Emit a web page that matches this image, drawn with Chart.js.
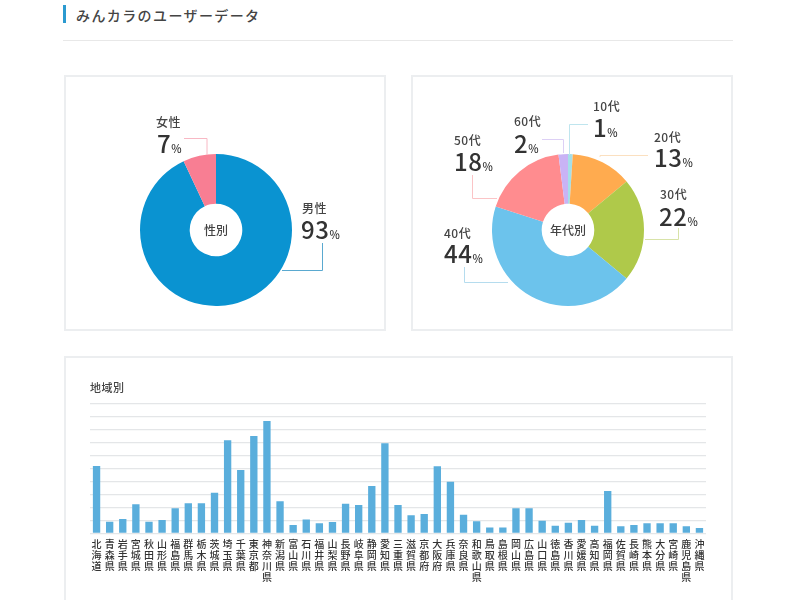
<!DOCTYPE html>
<html lang="ja">
<head>
<meta charset="utf-8">
<title>みんカラのユーザーデータ</title>
<script src="https://cdn.jsdelivr.net/npm/chart.js@4"></script>
<style>
  html, body { margin: 0; padding: 0; background: #fff; }
  body { position: relative; width: 800px; height: 600px; overflow: hidden; font-family: "Noto Sans CJK JP", "Noto Sans", sans-serif; color: #333; }
  .abs { position: absolute; }
  .card { position: absolute; box-sizing: border-box; border: 2px solid #eceef0; background: #fff; }
  .txt { position: absolute; line-height: 1; white-space: nowrap; transform: translateY(-50%); }
  .name { font-size: 12px; font-weight: 500; letter-spacing: 0.5px; color: #444; }
  .num { font-size: 24px; font-weight: 500; color: #333; letter-spacing: 0.5px; }
  .num small { font-size: 11px; font-weight: 500; margin-left: 0; }
  .center { font-size: 12px; font-weight: 500; color: #444; transform: translate(-50%, -50%); }
  svg { position: absolute; left: 0; top: 0; }
</style>
</head>
<body>
<div class="abs" style="left:63px;top:5px;width:3px;height:18px;background:#2b9ad0"></div>
<div class="txt" style="left:76px;top:15px;font-size:14px;font-weight:500;letter-spacing:1.4px;color:#444">みんカラのユーザーデータ</div>
<div class="abs" style="left:63px;top:40px;width:670px;height:1px;background:#e8e8e8"></div>

<div class="card" style="left:64px;top:75px;width:322px;height:256px"></div>
<div class="card" style="left:411px;top:75px;width:322px;height:256px"></div>
<div class="card" style="left:64px;top:356px;width:669px;height:260px"></div>

<canvas id="genderChart" class="abs" style="left:131px;top:145px"></canvas>
<canvas id="ageChart" class="abs" style="left:483px;top:145px"></canvas>
<canvas id="regionChart" class="abs" style="left:90px;top:400px"></canvas>

<svg width="800" height="600" fill="none" stroke-width="1">
  <polyline points="184,138.5 207,138.5 207,155" stroke="#f8b8c4"/>
  <polyline points="322.5,243 322.5,270.5 282,270.5" stroke="#5aa9d0"/>
  <polyline points="588,124.5 569.5,124.5 569.5,155" stroke="#bfe5ee"/>
  <polyline points="648,155.5 600,155.5 600,157" stroke="#fbe0c0"/>
  <polyline points="678.5,228 678.5,239.5 645,239.5" stroke="#d8e3a8"/>
  <polyline points="464.5,267 464.5,282.5 508,282.5" stroke="#b5dcee"/>
  <polyline points="472.5,175 472.5,198.5 497,198.5" stroke="#fbc4c6"/>
  <polyline points="542,139.5 563.5,139.5 563.5,153" stroke="#ddd0f5"/>
</svg>

<div class="txt center" style="left:216px;top:230px">性別</div>
<div class="txt center" style="left:568px;top:230px">年代別</div>
<div class="txt" style="left:90px;top:387px;font-size:11px;font-weight:500;letter-spacing:0.5px;color:#444">地域別</div>

<script>
// Gender split
const genderLabels = ['男性', '女性'];
const genderValues = [93, 7];
const genderColors = ['#0a93d1', '#f87e93'];

// Age split
const ageLabels = ['10代', '20代', '30代', '40代', '50代', '60代'];
const ageValues = [1, 13, 22, 44, 18, 2];
const ageColors = ['#a5dfe8', '#ffab4f', '#afc94a', '#6cc3ec', '#ff8c8f', '#c9b3f5'];

// Region (values read off the gridlines, axis has no printed numbers)
const prefectures = ['北海道','青森県','岩手県','宮城県','秋田県','山形県','福島県','群馬県','栃木県','茨城県','埼玉県','千葉県','東京都','神奈川県','新潟県','富山県','石川県','福井県','山梨県','長野県','岐阜県','静岡県','愛知県','三重県','滋賀県','京都府','大阪府','兵庫県','奈良県','和歌山県','鳥取県','島根県','岡山県','広島県','山口県','徳島県','香川県','愛媛県','高知県','福岡県','佐賀県','長崎県','熊本県','大分県','宮崎県','鹿児島県','沖縄県'];
const regionValues = [52, 9, 11, 22.4, 9, 10.3, 19.3, 23.2, 23.2, 31.4, 71.9, 49, 75.3, 86.9, 24.7, 6.4, 10.6, 7.7, 8.8, 22.9, 21.9, 36.6, 69.6, 21.9, 13.9, 14.9, 51.8, 39.9, 14.4, 9.3, 4.4, 4.4, 19.3, 19.3, 9.8, 5.9, 8.2, 10.3, 5.9, 32.7, 5.4, 6.4, 7.7, 7.7, 7.7, 5.4, 4.1];

// Label placement: [name x, name y, number x, number y]
const genderSpots = [[302, 208, 301, 229], [156, 122, 157, 143]];
const ageSpots = [
  [593, 106, 593, 127],
  [654, 137, 654, 157],
  [660, 194, 659, 216],
  [444, 233, 444, 253],
  [454, 140, 454, 161],
  [514, 121, 514, 143],
];

function addLabels(labels, values, spots) {
  labels.forEach((label, i) => {
    const [nx, ny, vx, vy] = spots[i];
    document.body.insertAdjacentHTML('beforeend',
      `<div class="txt name" style="left:${nx}px;top:${ny}px">${label}</div>` +
      `<div class="txt num" style="left:${vx}px;top:${vy}px">${values[i]}<small>%</small></div>`);
  });
}
addLabels(genderLabels, genderValues, genderSpots);
addLabels(ageLabels, ageValues, ageSpots);

function sizeCanvas(id, w, h) {
  const el = document.getElementById(id);
  el.width = w;
  el.height = h;
  return el;
}

function doughnut(id, labels, values, colors) {
  new Chart(sizeCanvas(id, 170, 170), {
    type: 'doughnut',
    data: { labels, datasets: [{ data: values, backgroundColor: colors, borderWidth: 0 }] },
    options: {
      responsive: false,
      animation: false,
      radius: 76,
      cutout: '34.6%',
      plugins: { legend: { display: false }, tooltip: { enabled: false } },
    },
  });
}
doughnut('genderChart', genderLabels, genderValues, genderColors);
doughnut('ageChart', ageLabels, ageValues, ageColors);

new Chart(sizeCanvas('regionChart', 616, 200), {
  type: 'bar',
  data: {
    labels: prefectures,
    datasets: [{ data: regionValues, backgroundColor: '#5aaedc', barPercentage: 0.56, categoryPercentage: 1 }],
  },
  options: {
    responsive: false,
    animation: false,
    layout: { padding: { top: 4 } },
    plugins: { legend: { display: false }, tooltip: { enabled: false } },
    scales: {
      x: {
        grid: { display: false, drawTicks: false },
        border: { display: false },
        ticks: {
          autoSkip: false,
          maxRotation: 0,
          minRotation: 0,
          padding: 6,
          color: '#333',
          font: { family: '"Noto Sans CJK JP"', size: 10, weight: '500', lineHeight: '10.7px' },
          callback(value) { return this.getLabelForValue(value).split(''); },
        },
        afterFit(scale) {
          scale.height = 66.7;
          scale.paddingLeft = 0;
          scale.paddingRight = 0;
        },
      },
      y: {
        min: 0,
        max: 100,
        ticks: { display: false, stepSize: 10 },
        grid: { color: '#e4e6e8', lineWidth: 1.3, drawTicks: false },
        border: { display: false },
        afterFit(scale) { scale.width = 0; },
      },
    },
  },
});
</script>
</body>
</html>
